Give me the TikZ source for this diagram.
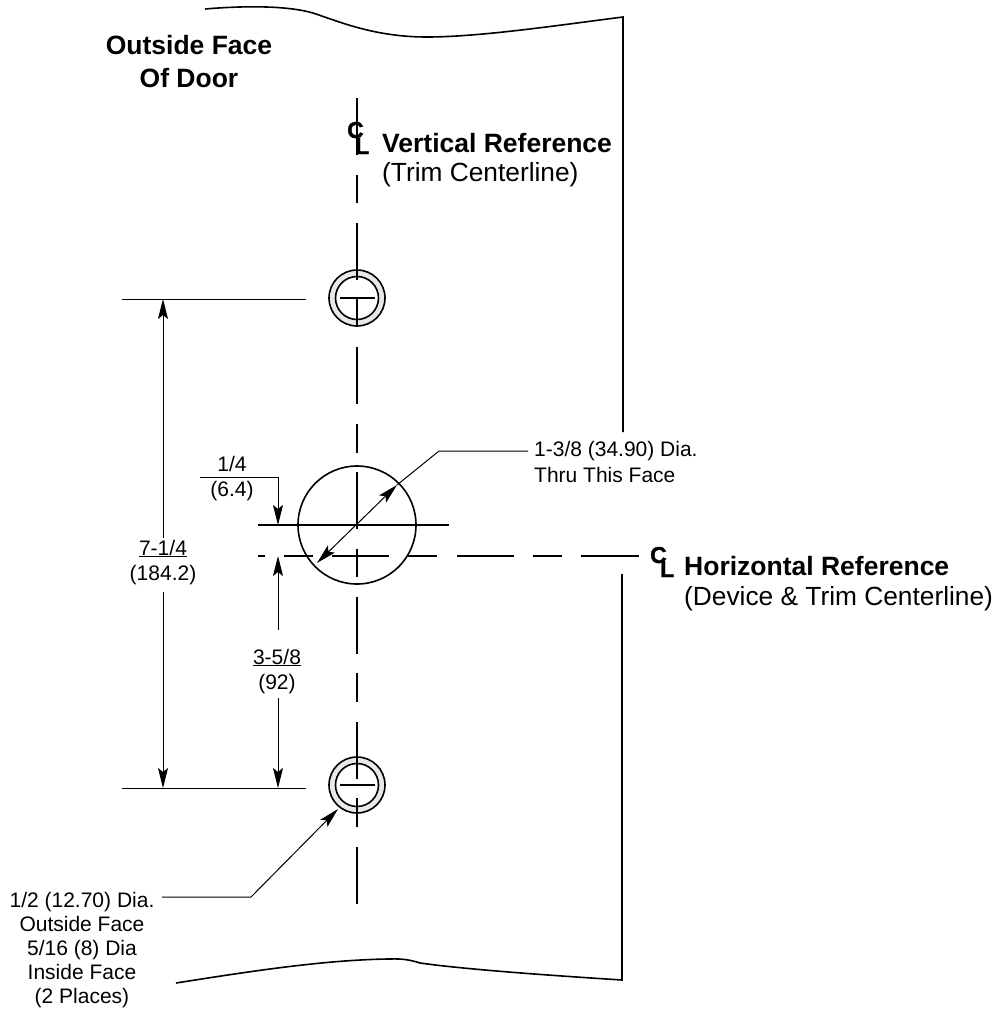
\documentclass[tikz,border=0pt]{standalone}
\usepackage{fontspec}
\setmainfont{Liberation Sans}
\newfontfamily\clfont[FakeBold=1.5]{Liberation Sans Bold}
\usetikzlibrary{arrows.meta}
\definecolor{holegray}{HTML}{E8E8E8}
\tikzset{
  edgeline/.style={line width=1.6pt,black,line cap=butt},
  cline/.style={line width=1.8pt,black},
  thinline/.style={line width=1pt,black},
  dimarrow/.style={thinline,-{Stealth[length=20pt,width=10pt,inset=4pt]}},
  small/.style={font=\fontsize{21}{25}\selectfont,inner sep=0pt,align=center,anchor=base},
  bigb/.style={font=\fontsize{26.5}{33}\selectfont\bfseries,inner sep=0pt,anchor=base west},
  bigr/.style={font=\fontsize{26.3}{30}\selectfont,inner sep=0pt,anchor=base west},
  clmark/.style={font=\fontsize{23}{23}\selectfont\clfont,inner sep=0pt,anchor=base west},
}
\begin{document}
\begin{tikzpicture}[x=1pt,y=-1pt]
\useasboundingbox (0,0) rectangle (993,1010);
% door outline
\draw[edgeline] (205,9) .. controls (240,6) and (285,5) .. (313,13)
  .. controls (340,22) and (375,37) .. (427,37)
  .. controls (480,37) and (560,25) .. (623,17) -- (623,432);
\draw[edgeline] (622,574) -- (622,980) .. controls (560,976) and (470,970) .. (420,963)
  .. controls (405,958) and (395,959) .. (388,959)
  .. controls (320,960) and (240,973) .. (176,983);
% vertical centerline
\foreach \a/\b in {98/155,175/203,223/280,299/327,347/404,424/453,472/529,549/577,597/654,673/702,722/779,798/827,847/904}
  \draw[cline] (357,\a) -- (357,\b);
% horizontal centerline
\foreach \a/\b in {258/265,284/313,332/389,408/437,457/514,533/562,581/639}
  \draw[cline] (\a,556) -- (\b,556);
% large hole
\node[circle,draw,line width=1.6pt,minimum size=118pt,inner sep=0pt] (bighole) at (357,525) {};
\draw[cline] (258,525) -- (449,525);
% small holes
\foreach \n/\y in {top/298,bot/785}{
  \draw[line width=1.6pt,fill=holegray,even odd rule] (357,\y) circle (28) (357,\y) circle (21.5);
  \draw[cline] (340,\y) -- (375,\y);
}
\draw[cline] (357,265) -- (357,280) (357,299) -- (357,327);
\draw[cline] (357,750) -- (357,779) (357,798) -- (357,827);
% extension lines
\coordinate (extT) at (122,299); \coordinate (extTe) at (306,299);
\coordinate (extB) at (122,788); \coordinate (extBe) at (306,788);
\draw[thinline] (extT) -- (extTe);
\draw[thinline] (extB) -- (extBe);
% 7-1/4
\node[small] (d714) at (163,580) {\underline{7-1/4}\\(184.2)};
\draw[dimarrow] (163,538) -- (163,299);
\draw[dimarrow] (163,592) -- (163,788);
% 3-5/8
\node[small] (d358) at (277,689) {\underline{3-5/8}\\(92)};
\draw[dimarrow] (278,630) -- (278,556);
\draw[dimarrow] (278,698) -- (278,788);
% 1/4
\node[small] (d14) at (232,496) {1/4\\(6.4)};
\draw[thinline,-{Stealth[length=20pt,width=10pt,inset=4pt]}] (200,477) -- (278,477) -- (278,525);
% big dia leader
\node[font=\fontsize{21}{26}\selectfont,inner sep=0pt,anchor=base west,align=left] (dbig) at (534,482) {1-3/8 (34.90) Dia.\\Thru This Face};
\coordinate (lbend) at (439,451);
\coordinate (tipA) at (397,485);
\coordinate (tipB) at (317,563);
\draw[thinline] (528,451) -- (lbend) -- (tipA);
\draw[thinline,{Stealth[length=20pt,width=10pt,inset=4pt]}-{Stealth[length=20pt,width=10pt,inset=4pt]}] (tipB) -- (tipA);
% small dia leader
\node[font=\fontsize{21}{24}\selectfont,inner sep=0pt,align=center,anchor=base] (dsmall) at (82,1003) {1/2 (12.70) Dia.\\Outside Face\\5/16 (8) Dia\\Inside Face\\(2 Places)};
\draw[thinline,-{Stealth[length=20pt,width=10pt,inset=4pt]}] (162,897) -- (251,897) -- (338,809);
% labels
\node[font=\fontsize{26.5}{33}\selectfont\bfseries,inner sep=0pt,align=center,anchor=base] (ofd) at (189,87) {Outside Face\\Of Door};
\node[clmark] (cv) at (347,138) {C};
\node[clmark] (lv) at (355,154) {L};
\node[bigb] (vr) at (382,152) {Vertical Reference};
\node[bigr] (vt) at (382,181) {(Trim Centerline)};
\node[clmark] (ch) at (650,563) {C};
\node[clmark] (lh) at (660,577) {L};
\node[bigb] (hr) at (684,575) {Horizontal Reference};
\node[bigr] (ht) at (684,605) {(Device \& Trim Centerline)};
\end{tikzpicture}
\end{document}
